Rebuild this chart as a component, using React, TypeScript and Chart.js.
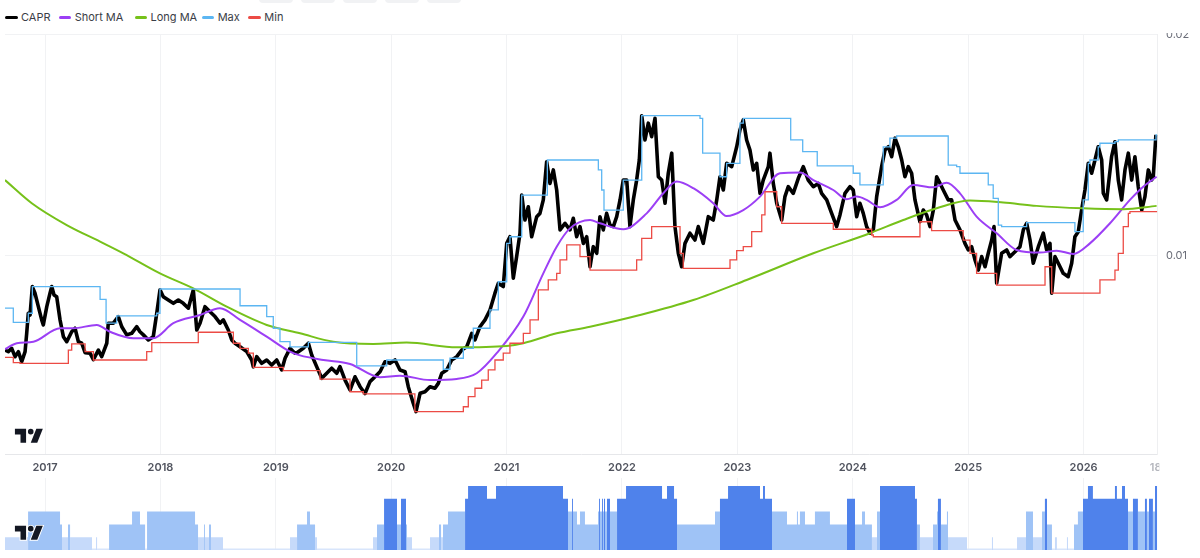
import React, { useEffect, useRef } from "react";
import { Chart, registerables } from "chart.js";

Chart.register(...registerables);

// ---------- data ----------
const xMin = 2016.653;
const xMax = 2026.639;
const yMin = 0.000984;
const yMax = 0.020022;
const yearTicks = [2017, 2018, 2019, 2020, 2021, 2022, 2023, 2024, 2025, 2026];
const priceTicks = [0.01, 0.02];
const edgeLabel = "18";

const caprData: [number, number][] = [
  [2016.653,0.00571],[2016.682,0.00564],[2016.711,0.00579],[2016.740,0.00541],[2016.769,0.00564],[2016.798,0.00518],[2016.827,0.00564],[2016.841,0.00647],[2016.855,0.00738],[2016.870,0.00730],[2016.890,0.00859],[2016.913,0.00829],[2016.942,0.00768],[2016.971,0.00708],[2016.985,0.00685],[2017.015,0.00768],[2017.043,0.00829],[2017.058,0.00859],[2017.078,0.00821],[2017.101,0.00813],[2017.130,0.00708],[2017.159,0.00632],[2017.188,0.00609],[2017.231,0.00654],[2017.260,0.00670],[2017.289,0.00609],[2017.318,0.00602],[2017.347,0.00559],[2017.390,0.00557],[2017.419,0.00528],[2017.462,0.00571],[2017.491,0.00541],[2017.535,0.00602],[2017.548,0.00693],[2017.592,0.00693],[2017.635,0.00723],[2017.665,0.00677],[2017.708,0.00640],[2017.751,0.00647],[2017.795,0.00677],[2017.823,0.00654],[2017.852,0.00640],[2017.895,0.00617],[2017.938,0.00632],[2017.968,0.00738],[2017.996,0.00844],[2018.025,0.00813],[2018.068,0.00798],[2018.112,0.00783],[2018.155,0.00798],[2018.198,0.00783],[2018.242,0.00761],[2018.285,0.00844],[2018.315,0.00662],[2018.343,0.00693],[2018.386,0.00768],[2018.430,0.00745],[2018.473,0.00723],[2018.516,0.00693],[2018.545,0.00708],[2018.588,0.00662],[2018.618,0.00617],[2018.646,0.00602],[2018.690,0.00586],[2018.748,0.00564],[2018.791,0.00526],[2018.805,0.00495],[2018.834,0.00541],[2018.878,0.00511],[2018.921,0.00526],[2018.964,0.00503],[2019.008,0.00526],[2019.051,0.00481],[2019.080,0.00534],[2019.123,0.00579],[2019.166,0.00557],[2019.192,0.00562],[2019.238,0.00579],[2019.282,0.00602],[2019.311,0.00549],[2019.354,0.00496],[2019.398,0.00443],[2019.441,0.00466],[2019.484,0.00489],[2019.528,0.00466],[2019.556,0.00496],[2019.600,0.00435],[2019.643,0.00390],[2019.686,0.00450],[2019.730,0.00405],[2019.773,0.00374],[2019.816,0.00428],[2019.860,0.00450],[2019.903,0.00473],[2019.946,0.00518],[2019.990,0.00511],[2020.033,0.00526],[2020.076,0.00481],[2020.120,0.00473],[2020.148,0.00405],[2020.191,0.00330],[2020.215,0.00292],[2020.250,0.00375],[2020.293,0.00382],[2020.336,0.00405],[2020.379,0.00398],[2020.408,0.00420],[2020.438,0.00466],[2020.481,0.00481],[2020.524,0.00526],[2020.568,0.00541],[2020.611,0.00571],[2020.654,0.00586],[2020.698,0.00647],[2020.726,0.00617],[2020.769,0.00677],[2020.813,0.00708],[2020.856,0.00753],[2020.899,0.00829],[2020.928,0.00874],[2020.971,0.00859],[2021.001,0.01055],[2021.029,0.01085],[2021.058,0.00897],[2021.087,0.00995],[2021.116,0.01101],[2021.131,0.01274],[2021.159,0.01161],[2021.188,0.01221],[2021.217,0.01085],[2021.261,0.01176],[2021.289,0.01191],[2021.318,0.01252],[2021.347,0.01425],[2021.376,0.01327],[2021.405,0.01388],[2021.434,0.01297],[2021.463,0.01116],[2021.506,0.01146],[2021.549,0.01116],[2021.578,0.01169],[2021.607,0.01085],[2021.636,0.01131],[2021.665,0.01055],[2021.694,0.01085],[2021.723,0.00949],[2021.751,0.01040],[2021.781,0.01010],[2021.809,0.01176],[2021.838,0.01116],[2021.867,0.01191],[2021.896,0.01138],[2021.925,0.01131],[2021.954,0.01176],[2021.983,0.01252],[2022.011,0.01342],[2022.041,0.01342],[2022.069,0.01131],[2022.098,0.01252],[2022.127,0.01342],[2022.150,0.01433],[2022.171,0.01634],[2022.199,0.01524],[2022.228,0.01600],[2022.257,0.01539],[2022.286,0.01622],[2022.315,0.01357],[2022.344,0.01342],[2022.373,0.01237],[2022.401,0.01373],[2022.431,0.01464],[2022.459,0.01131],[2022.488,0.01010],[2022.517,0.00949],[2022.546,0.01055],[2022.589,0.01101],[2022.632,0.01070],[2022.661,0.01131],[2022.704,0.01055],[2022.748,0.01176],[2022.791,0.01161],[2022.821,0.01252],[2022.849,0.01357],[2022.878,0.01297],[2022.907,0.01418],[2022.951,0.01403],[2022.994,0.01493],[2023.022,0.01569],[2023.051,0.01615],[2023.080,0.01524],[2023.109,0.01478],[2023.138,0.01388],[2023.167,0.01418],[2023.196,0.01282],[2023.224,0.01342],[2023.268,0.01403],[2023.282,0.01464],[2023.311,0.01327],[2023.341,0.01237],[2023.384,0.01161],[2023.412,0.01267],[2023.441,0.01312],[2023.484,0.01282],[2023.528,0.01350],[2023.571,0.01403],[2023.614,0.01342],[2023.658,0.01312],[2023.701,0.01327],[2023.730,0.01282],[2023.774,0.01252],[2023.817,0.01191],[2023.860,0.01131],[2023.889,0.01184],[2023.932,0.01282],[2023.976,0.01312],[2024.004,0.01297],[2024.034,0.01176],[2024.062,0.01237],[2024.091,0.01191],[2024.120,0.01131],[2024.149,0.01101],[2024.178,0.01116],[2024.207,0.01267],[2024.250,0.01403],[2024.279,0.01478],[2024.308,0.01493],[2024.337,0.01448],[2024.366,0.01532],[2024.394,0.01493],[2024.424,0.01433],[2024.452,0.01357],[2024.481,0.01403],[2024.510,0.01373],[2024.539,0.01252],[2024.582,0.01153],[2024.611,0.01206],[2024.640,0.01184],[2024.669,0.01131],[2024.698,0.01206],[2024.727,0.01357],[2024.756,0.01327],[2024.784,0.01297],[2024.827,0.01252],[2024.857,0.01252],[2024.886,0.01161],[2024.929,0.01116],[2024.972,0.01055],[2025.001,0.01025],[2025.030,0.01040],[2025.059,0.00980],[2025.088,0.00934],[2025.117,0.00995],[2025.146,0.00949],[2025.174,0.01010],[2025.204,0.01070],[2025.224,0.01131],[2025.247,0.00874],[2025.290,0.01010],[2025.334,0.01025],[2025.362,0.00995],[2025.406,0.01017],[2025.449,0.01040],[2025.478,0.01116],[2025.507,0.01146],[2025.536,0.01070],[2025.564,0.00965],[2025.608,0.01040],[2025.651,0.01101],[2025.680,0.01025],[2025.709,0.01055],[2025.724,0.00829],[2025.752,0.00995],[2025.781,0.00965],[2025.824,0.00919],[2025.867,0.00904],[2025.897,0.00965],[2025.925,0.01085],[2025.954,0.01108],[2025.983,0.01206],[2026.012,0.01297],[2026.041,0.01418],[2026.070,0.01373],[2026.099,0.01433],[2026.127,0.01493],[2026.157,0.01433],[2026.171,0.01282],[2026.200,0.01252],[2026.243,0.01448],[2026.272,0.01516],[2026.301,0.01342],[2026.330,0.01252],[2026.359,0.01388],[2026.388,0.01464],[2026.417,0.01342],[2026.445,0.01448],[2026.474,0.01312],[2026.504,0.01206],[2026.532,0.01267],[2026.561,0.01388],[2026.590,0.01342],[2026.604,0.01357],[2026.627,0.01547],
];

const shortMaData: [number, number][] = [
  [2016.653,0.00575],[2016.755,0.00602],[2016.899,0.00609],[2017.130,0.00670],[2017.245,0.00670],[2017.448,0.00685],[2017.563,0.00654],[2017.765,0.00625],[2017.938,0.00625],[2018.112,0.00693],[2018.343,0.00730],[2018.516,0.00761],[2018.690,0.00708],[2018.921,0.00632],[2019.123,0.00564],[2019.210,0.00547],[2019.412,0.00526],[2019.643,0.00508],[2019.903,0.00448],[2020.076,0.00455],[2020.336,0.00435],[2020.568,0.00440],[2020.741,0.00466],[2020.914,0.00557],[2021.145,0.00723],[2021.318,0.00919],[2021.434,0.01040],[2021.549,0.01123],[2021.723,0.01161],[2021.809,0.01146],[2022.011,0.01119],[2022.214,0.01191],[2022.358,0.01282],[2022.474,0.01335],[2022.618,0.01305],[2022.791,0.01237],[2022.907,0.01179],[2023.051,0.01206],[2023.196,0.01267],[2023.369,0.01373],[2023.542,0.01376],[2023.658,0.01342],[2023.831,0.01297],[2023.947,0.01255],[2024.034,0.01267],[2024.120,0.01252],[2024.236,0.01219],[2024.380,0.01252],[2024.524,0.01320],[2024.697,0.01309],[2024.813,0.01330],[2024.929,0.01282],[2025.073,0.01176],[2025.247,0.01101],[2025.420,0.01025],[2025.622,0.01013],[2025.767,0.01022],[2025.911,0.01007],[2026.055,0.01055],[2026.229,0.01146],[2026.402,0.01252],[2026.517,0.01312],[2026.633,0.01357],
];

const longMaData: [number, number][] = [
  [2016.653,0.01342],[2016.885,0.01237],[2017.188,0.01138],[2017.477,0.01063],[2017.678,0.01010],[2017.996,0.00919],[2018.285,0.00851],[2018.574,0.00768],[2018.921,0.00685],[2019.210,0.00647],[2019.498,0.00609],[2019.845,0.00599],[2020.134,0.00605],[2020.568,0.00584],[2021.001,0.00590],[2021.145,0.00602],[2021.434,0.00647],[2021.723,0.00677],[2022.156,0.00730],[2022.618,0.00798],[2023.080,0.00889],[2023.658,0.01010],[2024.149,0.01101],[2024.438,0.01161],[2024.727,0.01214],[2025.016,0.01249],[2025.304,0.01240],[2025.593,0.01225],[2025.997,0.01214],[2026.344,0.01210],[2026.633,0.01225],
];

const maxData: [number, number][] = [
  [2016.653,0.00761],[2016.725,0.00697],[2016.855,0.00738],[2016.890,0.00859],[2017.477,0.00801],[2017.529,0.00693],[2017.621,0.00726],[2017.968,0.00738],[2017.996,0.00848],[2018.690,0.00772],[2018.921,0.00723],[2018.978,0.00670],[2019.036,0.00609],[2019.123,0.00586],[2019.282,0.00606],[2019.701,0.00499],[2019.961,0.00526],[2020.451,0.00484],[2020.509,0.00534],[2020.625,0.00579],[2020.711,0.00670],[2020.856,0.00753],[2020.928,0.00881],[2021.001,0.01055],[2021.029,0.01085],[2021.131,0.01274],[2021.353,0.01433],[2021.795,0.01388],[2021.824,0.01297],[2021.844,0.01206],[2022.011,0.01342],[2022.171,0.01634],[2022.676,0.01622],[2022.699,0.01464],[2022.849,0.01357],[2022.907,0.01418],[2023.022,0.01600],[2023.051,0.01622],[2023.462,0.01524],[2023.566,0.01471],[2023.692,0.01406],[2024.004,0.01373],[2024.062,0.01320],[2024.264,0.01493],[2024.322,0.01532],[2024.380,0.01542],[2024.827,0.01410],[2024.900,0.01403],[2024.929,0.01373],[2025.174,0.01320],[2025.217,0.01259],[2025.261,0.01138],[2025.290,0.01131],[2025.507,0.01149],[2025.925,0.01108],[2025.997,0.01252],[2026.041,0.01418],[2026.055,0.01433],[2026.127,0.01493],[2026.142,0.01509],[2026.272,0.01516],[2026.301,0.01524],[2026.628,0.01547],[2026.639,0.01547],
];

const minData: [number, number][] = [
  [2016.653,0.00538],[2016.725,0.00514],[2016.783,0.00511],[2017.202,0.00571],[2017.231,0.00599],[2017.347,0.00564],[2017.419,0.00526],[2017.881,0.00564],[2017.925,0.00605],[2018.328,0.00652],[2018.632,0.00602],[2018.690,0.00579],[2018.762,0.00557],[2018.805,0.00493],[2019.065,0.00478],[2019.383,0.00439],[2019.643,0.00382],[2019.758,0.00372],[2020.205,0.00292],[2020.625,0.00314],[2020.668,0.00360],[2020.726,0.00398],[2020.784,0.00435],[2020.841,0.00481],[2020.899,0.00526],[2020.971,0.00557],[2021.029,0.00602],[2021.145,0.00647],[2021.203,0.00708],[2021.275,0.00844],[2021.361,0.00889],[2021.434,0.00919],[2021.463,0.00980],[2021.521,0.01048],[2021.636,0.00995],[2021.723,0.00934],[2022.127,0.00980],[2022.171,0.01078],[2022.257,0.01131],[2022.503,0.01010],[2022.531,0.00942],[2022.936,0.00980],[2022.994,0.01022],[2023.051,0.01040],[2023.124,0.01108],[2023.211,0.01184],[2023.239,0.01289],[2023.341,0.01221],[2023.384,0.01146],[2023.831,0.01119],[2024.164,0.01093],[2024.178,0.01085],[2024.582,0.01153],[2024.683,0.01113],[2024.957,0.01070],[2025.016,0.01010],[2025.073,0.00919],[2025.247,0.00866],[2025.666,0.00949],[2025.724,0.00829],[2026.142,0.00889],[2026.272,0.00934],[2026.301,0.01010],[2026.344,0.01131],[2026.388,0.01191],[2026.402,0.01199],[2026.639,0.01199],
];

// lower panel: level histogram (segment start, level 0..5)
const histStart: number[] = [
  2016.653,2016.853,2017.130,2017.147,2017.199,2017.217,2017.407,2017.442,2017.451,2017.555,2017.754,2017.823,2017.867,2017.884,2018.300,2018.326,2018.378,2018.386,2018.421,2018.438,2018.542,2019.123,2019.184,2019.270,2019.296,2019.340,2019.357,2019.842,2019.877,2019.938,2020.050,2020.085,2020.128,2020.137,2020.180,2020.336,2020.414,2020.432,2020.449,2020.492,2020.640,2020.666,2020.830,2020.908,2021.489,2021.532,2021.567,2021.575,2021.610,2021.636,2021.679,2021.792,2021.801,2021.809,2021.827,2021.835,2021.844,2021.853,2021.870,2021.896,2021.957,2022.035,2022.347,2022.390,2022.451,2022.477,2022.806,2022.849,2022.919,2023.196,2023.222,2023.239,2023.300,2023.430,2023.516,2023.525,2023.542,2023.586,2023.672,2023.802,2023.950,2024.019,2024.080,2024.106,2024.166,2024.210,2024.236,2024.539,2024.556,2024.582,2024.695,2024.730,2024.738,2024.764,2024.816,2024.825,2024.990,2025.206,2025.215,2025.423,2025.501,2025.562,2025.640,2025.665,2025.683,2025.726,2025.752,2025.769,2025.856,2025.865,2025.917,2025.951,2025.995,2026.038,2026.081,2026.272,2026.289,2026.333,2026.359,2026.385,2026.428,2026.471,2026.532,2026.549,2026.567,2026.601,2026.619,
];
const histLevel: number[] = [
  1,3,2,1,2,1,0,1,0,2,3,2,0,3,2,1,2,1,2,1,0,1,2,3,2,1,0,1,2,4,2,4,2,1,0,1,2,1,2,3,4,5,4,5,4,3,4,3,2,3,2,3,4,3,4,3,4,3,4,3,4,5,4,5,4,2,3,4,5,4,5,4,3,2,3,2,3,2,3,2,4,2,3,2,1,3,5,4,2,1,2,3,4,2,3,1,0,1,0,1,3,1,3,4,2,0,1,0,1,0,2,3,4,5,4,5,4,5,4,3,4,3,4,3,4,3,5,
];
const histEnd = 2026.639;

// ---------- styling ----------
const FONT = "Inter, 'Noto Sans', sans-serif";
const GRID = "#f1f2f4";
const legendItems = [
  { label: "CAPR", color: "#000000", left: 5 },
  { label: "Short MA", color: "#9c3ff5", left: 58.7 },
  { label: "Long MA", color: "#76c11a", left: 134.5 },
  { label: "Max", color: "#5cb6f2", left: 201.7 },
  { label: "Min", color: "#ec4b45", left: 248.3 },
];
const histGroups = [
  { name: "high", levels: [4, 5], color: "#4f82eb", order: 1 },
  { name: "mid", levels: [2, 3], color: "#9fc3f6", order: 2 },
  { name: "low", levels: [1], color: "#c6dafa", order: 3 },
  { name: "none", levels: [0], color: "#d8e5fb", order: 4 },
];

const toXY = (arr: [number, number][]) => arr.map(([x, y]) => ({ x, y }));

const LOGO_PATH = "M14 2H2v6h6v9h6V2Zm12 15h-7l6-15h7l-6 15Zm-7-9a3 3 0 1 0 0-6 3 3 0 0 0 0 6Z";

function Logo({ top }: { top: number }) {
  return (
    <svg
      width={32.7}
      height={17.7}
      viewBox="0 0 35 19"
      style={{ position: "absolute", left: 13.4, top, zIndex: 2 }}
    >
      <path d={LOGO_PATH} fill="#131722" stroke="#ffffff" strokeWidth={2} style={{ paintOrder: "stroke" } as any} />
    </svg>
  );
}

export default function App() {
  const mainRef = useRef<HTMLCanvasElement | null>(null);
  const histRef = useRef<HTMLCanvasElement | null>(null);

  useEffect(() => {
    if (!mainRef.current || !histRef.current) return;

    const edgeLabelPlugin = {
      id: "edgeLabel",
      afterDraw(chart: any) {
        const { ctx, chartArea } = chart;
        const xs = chart.scales.x;
        ctx.save();
        ctx.beginPath();
        ctx.rect(0, 0, chartArea.right + 2, chart.height);
        ctx.clip();
        ctx.font = `600 11px ${FONT}`;
        ctx.fillStyle = "#b4b6bd";
        ctx.textAlign = "left";
        ctx.textBaseline = "middle";
        ctx.fillText(edgeLabel, chartArea.right - 7.5, xs.top + 6.4 + 6.6);
        ctx.restore();
      },
    };

    const main = new Chart(mainRef.current, {
      type: "line",
      data: {
        datasets: [
          { label: "CAPR", data: toXY(caprData), borderColor: "#000000", borderWidth: 3.6, pointRadius: 0, tension: 0, order: 5, borderJoinStyle: "round" } as any,
          { label: "Short MA", data: toXY(shortMaData), borderColor: "#9c3ff5", borderWidth: 2, pointRadius: 0, cubicInterpolationMode: "monotone", order: 4 },
          { label: "Long MA", data: toXY(longMaData), borderColor: "#76c11a", borderWidth: 2, pointRadius: 0, cubicInterpolationMode: "monotone", order: 3 },
          { label: "Max", data: toXY(maxData), borderColor: "#5cb6f2", borderWidth: 1.3, pointRadius: 0, stepped: true, order: 2 },
          { label: "Min", data: toXY(minData), borderColor: "#ec4b45", borderWidth: 1.3, pointRadius: 0, stepped: true, order: 1 },
        ],
      },
      options: {
        responsive: false,
        animation: false,
        events: [],
        layout: { padding: { left: 5, top: 1.5, right: 0, bottom: 0 } },
        plugins: { legend: { display: false }, tooltip: { enabled: false } },
        scales: {
          x: {
            type: "linear",
            position: "bottom",
            min: xMin,
            max: xMax,
            afterBuildTicks: (s: any) => { s.ticks = yearTicks.map((v) => ({ value: v })); },
            afterFit: (s: any) => { s.height = 23.7; s.paddingLeft = 0; s.paddingRight = 0; },
            grid: { color: GRID, drawTicks: false },
            border: { display: true, color: "#e6e7ea" },
            ticks: {
              autoSkip: false,
              maxRotation: 0,
              padding: 6.4,
              color: "#50535e",
              font: { family: FONT, size: 11, weight: "600" as any },
              callback: (v: any) => String(v),
            },
          },
          y: {
            type: "linear",
            position: "right",
            min: yMin,
            max: yMax,
            afterBuildTicks: (s: any) => { s.ticks = priceTicks.map((v) => ({ value: v })); },
            afterFit: (s: any) => { s.width = 42.7; s.paddingTop = 0; s.paddingBottom = 0; },
            grid: { color: GRID, drawTicks: false },
            border: { display: true, color: "#eeeff1" },
            ticks: {
              padding: 8.7,
              color: "#6a6d78",
              font: { family: FONT, size: 11 },
              callback: (v: any) => Number(v).toFixed(2),
            },
          },
        },
      },
      plugins: [edgeLabelPlugin],
    });

    const groupOf = (lvl: number) => histGroups.find((g) => g.levels.includes(lvl))!;
    const heightOf = (lvl: number) => (lvl === 0 ? 0.11 : lvl);

    const histDatasets = histGroups.map((g) => {
      const pts = histStart.map((t, i) => ({
        x: t,
        y: groupOf(histLevel[i]) === g ? heightOf(histLevel[i]) : 0,
      }));
      pts.push({ x: histEnd, y: pts[pts.length - 1].y });
      return {
        label: g.name,
        data: pts,
        stepped: true,
        fill: "origin",
        backgroundColor: g.color,
        borderColor: "rgba(0,0,0,0)",
        borderWidth: 0,
        pointRadius: 0,
        order: g.order,
      } as any;
    });

    const hist = new Chart(histRef.current, {
      type: "line",
      data: { datasets: histDatasets },
      options: {
        responsive: false,
        animation: false,
        events: [],
        layout: { padding: { left: 5, right: 42.7, top: 0, bottom: 8 } },
        plugins: { legend: { display: false }, tooltip: { enabled: false } },
        scales: {
          x: {
            type: "linear",
            min: xMin,
            max: xMax,
            afterBuildTicks: (s: any) => { s.ticks = yearTicks.map((v) => ({ value: v })); },
            afterFit: (s: any) => { s.height = 0; s.paddingLeft = 0; s.paddingRight = 0; },
            ticks: { display: false },
            grid: { color: GRID, drawTicks: false },
            border: { display: false },
          },
          y: { min: 0, max: 5.625, display: false },
        },
      },
    });

    return () => {
      main.destroy();
      hist.destroy();
    };
  }, []);

  return (
    <div style={{ position: "absolute", left: 0, top: 0, width: 1200, height: 558, background: "#ffffff", overflow: "hidden", fontFamily: FONT }}>
      {[259, 301, 343, 385, 427].map((l) => (
        <div key={l} style={{ position: "absolute", top: -6, left: l, width: 34, height: 9, borderRadius: 4, background: "#f1f2f4" }} />
      ))}
      {legendItems.map((it) => (
        <div key={it.label} style={{ position: "absolute", top: 10.5, left: it.left, height: 13, display: "flex", alignItems: "center" }}>
          <span style={{ display: "inline-block", width: 12.5, height: 3, borderRadius: 1.5, background: it.color, marginRight: 3.5 }} />
          <span style={{ fontSize: 11, lineHeight: "13px", color: "#3a3d46", whiteSpace: "nowrap" }}>{it.label}</span>
        </div>
      ))}
      <canvas ref={mainRef} width={1200} height={445} style={{ position: "absolute", left: 0, top: 33, width: 1200, height: 445 }} />
      <canvas ref={histRef} width={1200} height={80} style={{ position: "absolute", left: 0, top: 478, width: 1200, height: 80 }} />
      <Logo top={427} />
      <Logo top={524.1} />
    </div>
  );
}
